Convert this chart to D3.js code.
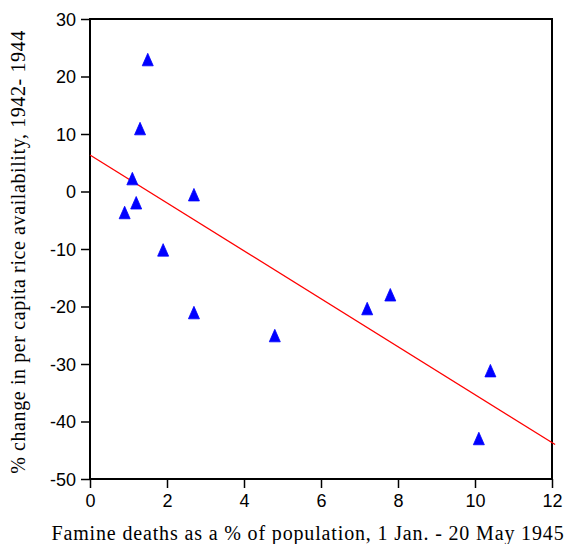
<!DOCTYPE html>
<html>
<head>
<meta charset="utf-8">
<script src="https://cdn.jsdelivr.net/npm/d3@7"></script>
<style>
  body { margin: 0; background: #fff; }
  .tick text { font-family: "Liberation Sans", Arial, sans-serif; font-size: 18px; fill: #000; }
  .title { font-family: "Liberation Serif", "Times New Roman", serif; font-size: 20px; fill: #000; }
</style>
</head>
<body>
<div id="chart"></div>
<script>
const deaths = [0.9, 1.1, 1.2, 1.3, 1.5, 1.9, 2.7, 2.7, 4.8, 7.2, 7.8, 10.1, 10.4];
const riceChange = [-3.7, 2.2, -2.0, 10.9, 22.9, -10.2, -0.6, -21.1, -25.1, -20.4, -18.0, -43.0, -31.2];
const fitLine = [[0, 6.35], [12.08, -44.0]];
const xTicks = [0, 2, 4, 6, 8, 10, 12];
const yTicks = [30, 20, 10, 0, -10, -20, -30, -40, -50];

const width = 567, height = 544;
const margin = { left: 90, top: 19, right: 15, bottom: 65 };

const svg = d3.select('#chart').append('svg')
  .attr('width', width)
  .attr('height', height);

const x = d3.scaleLinear().domain([0, 12]).range([margin.left, width - margin.right]);
const y = d3.scaleLinear().domain([-50, 30]).range([height - margin.bottom, margin.top]);

// box
svg.append('rect')
  .attr('x', x(0)).attr('y', y(30))
  .attr('width', x(12) - x(0)).attr('height', y(-50) - y(30))
  .attr('fill', 'none').attr('stroke', '#000').attr('stroke-width', 2);

const xAxis = svg.append('g')
  .attr('transform', `translate(0,${y(-50)})`)
  .call(d3.axisBottom(x).tickValues(xTicks).tickSize(9).tickPadding(6).tickFormat(d3.format('d')));

const yAxis = svg.append('g')
  .attr('transform', `translate(${x(0)},0)`)
  .call(d3.axisLeft(y).tickValues(yTicks).tickSize(9).tickPadding(5).tickFormat(d => d));

[xAxis, yAxis].forEach(a => {
  a.select('.domain').remove();
  a.selectAll('.tick line').attr('stroke', '#000').attr('stroke-width', 1.5);
});
yAxis.selectAll('.tick text').attr('dy', '0.35em');

// regression line
svg.append('line')
  .attr('x1', x(fitLine[0][0])).attr('y1', y(fitLine[0][1]))
  .attr('x2', x(fitLine[1][0])).attr('y2', y(fitLine[1][1]))
  .attr('stroke', '#ff0000').attr('stroke-width', 1.3);

// points: tall triangle centred on its box
const tallTriangle = {
  draw(ctx) {
    ctx.moveTo(0, -6.5);
    ctx.lineTo(5.5, 6);
    ctx.lineTo(-5.5, 6);
    ctx.closePath();
  }
};
svg.append('g')
  .selectAll('path')
  .data(deaths.map((d, i) => ({ x: d, y: riceChange[i] })))
  .enter()
  .append('path')
  .attr('d', d3.symbol().type(tallTriangle))
  .attr('transform', d => `translate(${x(d.x)},${y(d.y)})`)
  .attr('fill', '#0000ff')
  .attr('stroke', '#0000ff')
  .attr('stroke-width', 0.8)
  .attr('stroke-linejoin', 'round');

svg.append('text')
  .attr('class', 'title')
  .attr('x', 308).attr('y', 540)
  .attr('text-anchor', 'middle')
  .style('letter-spacing', '0.85px')
  .text('Famine deaths as a % of population, 1 Jan. - 20 May 1945');

svg.append('text')
  .attr('class', 'title')
  .attr('transform', `translate(25,252) rotate(-90)`)
  .attr('text-anchor', 'middle')
  .style('letter-spacing', '0.6px')
  .text('% change in per capita rice availability, 1942- 1944');
</script>
</body>
</html>
